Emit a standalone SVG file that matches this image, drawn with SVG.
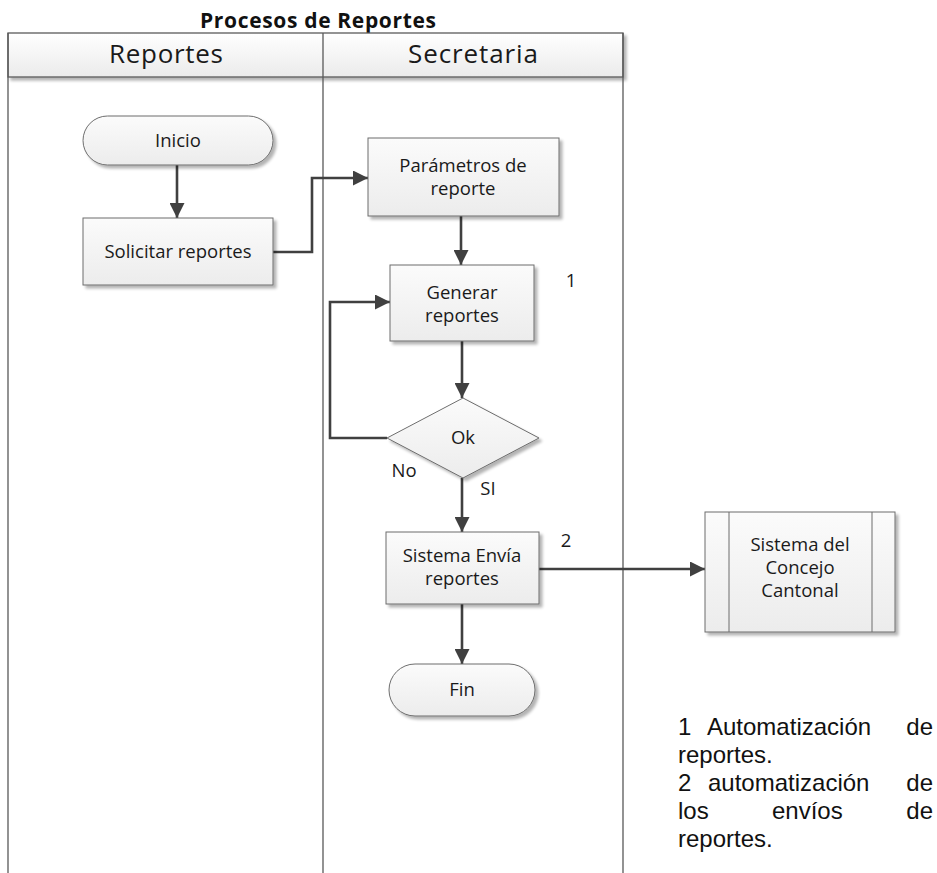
<svg xmlns="http://www.w3.org/2000/svg" width="937" height="873" viewBox="0 0 937 873">
  <style>
    .lane { fill: none; stroke: #595959; stroke-width: 1.3; }
    .box { fill: url(#boxFill); stroke: #6d6d6d; stroke-width: 1; filter: url(#shadow); }
    .lbl { font-family: "Open Sans", "Liberation Sans", sans-serif; font-size: 18.5px; fill: #1a1a1a; text-anchor: middle; }
    .hdr { font-family: "Open Sans", "Liberation Sans", sans-serif; font-size: 26px; fill: #1a1a1a; text-anchor: middle; }
    .title { font-family: "Open Sans", "Liberation Sans", sans-serif; font-size: 21px; font-weight: bold; fill: #111; text-anchor: middle; }
    .note { font-family: "Liberation Sans", Arial, sans-serif; font-size: 24px; fill: #111; }
    .conn { fill: none; stroke: #404040; stroke-width: 2.6; marker-end: url(#arrow); }
  </style>
  <defs>
    <linearGradient id="boxFill" x1="0" y1="0" x2="0" y2="1">
      <stop offset="0" stop-color="#fbfbfb"/>
      <stop offset="1" stop-color="#ececec"/>
    </linearGradient>
    <linearGradient id="hdrFill" x1="0" y1="0" x2="0" y2="1">
      <stop offset="0" stop-color="#ffffff"/>
      <stop offset="1" stop-color="#ebebeb"/>
    </linearGradient>
    <filter id="shadow" x="-10%" y="-10%" width="130%" height="140%">
      <feGaussianBlur in="SourceAlpha" stdDeviation="1.5"/>
      <feOffset dx="2.5" dy="2.5" result="b"/>
      <feComponentTransfer><feFuncA type="linear" slope="0.3"/></feComponentTransfer>
      <feMerge><feMergeNode/><feMergeNode in="SourceGraphic"/></feMerge>
    </filter>
    <marker id="arrow" markerUnits="userSpaceOnUse" markerWidth="15" markerHeight="15" refX="15" refY="7.5" orient="auto">
      <path d="M0,0 L15,7.5 L0,15 z" fill="#404040"/>
    </marker>
  </defs>

  <rect width="937" height="873" fill="#ffffff"/>

  <!-- pool title -->
  <text class="title" x="318" y="28" textLength="236" lengthAdjust="spacing">Procesos de Reportes</text>

  <!-- swimlanes -->
  <g id="pool">
    <rect x="8" y="33" width="615" height="44" fill="url(#hdrFill)" stroke="#595959" stroke-width="1.3" filter="url(#shadow)"/>
    <text class="hdr" x="166" y="63" textLength="114" lengthAdjust="spacing">Reportes</text>
    <text class="hdr" x="473" y="63" textLength="130" lengthAdjust="spacing">Secretaria</text>
    <path class="lane" d="M8,33 V873 M323,33 V873 M623,33 V873"/>
  </g>

  <!-- connectors -->
  <g id="connectors">
    <path class="conn" d="M177,165 V218"/>
    <path class="conn" d="M273,252 H312 V178 H368"/>
    <path class="conn" d="M461,216 V265"/>
    <path class="conn" d="M462,341 V398"/>
    <path class="conn" d="M387,438 H330 V302 H390"/>
    <path class="conn" d="M462,478 V532"/>
    <path class="conn" d="M539,569 H705"/>
    <path class="conn" d="M462,604 V664"/>
  </g>

  <g id="inicio">
    <rect class="box" x="83" y="116" width="190" height="49" rx="24.5"/>
    <text class="lbl" x="178" y="147">Inicio</text>
  </g>

  <g id="solicitar">
    <rect class="box" x="83" y="218" width="190" height="67"/>
    <text class="lbl" x="178" y="258">Solicitar reportes</text>
  </g>

  <g id="parametros">
    <rect class="box" x="368" y="138" width="191" height="78"/>
    <text class="lbl" x="463" y="172">Parámetros de</text>
    <text class="lbl" x="463" y="195">reporte</text>
  </g>

  <g id="generar">
    <rect class="box" x="390" y="265" width="144" height="76"/>
    <text class="lbl" x="462" y="299">Generar</text>
    <text class="lbl" x="462" y="322">reportes</text>
  </g>
  <text class="lbl" x="571" y="287">1</text>

  <g id="ok">
    <polygon class="box" points="463,398 539,438 463,478 387,438"/>
    <text class="lbl" x="463" y="444">Ok</text>
  </g>
  <text class="lbl" x="404" y="477">No</text>
  <text class="lbl" x="488" y="495">SI</text>

  <g id="envia">
    <rect class="box" x="386" y="532" width="153" height="72"/>
    <text class="lbl" x="462" y="562">Sistema Envía</text>
    <text class="lbl" x="462" y="585">reportes</text>
  </g>
  <text class="lbl" x="566" y="547">2</text>

  <g id="concejo">
    <rect class="box" x="705" y="512" width="190" height="120"/>
    <path d="M729,512 V632 M872,512 V632" stroke="#6d6d6d" stroke-width="1" fill="none"/>
    <text class="lbl" x="800" y="551">Sistema del</text>
    <text class="lbl" x="800" y="574">Concejo</text>
    <text class="lbl" x="800" y="597">Cantonal</text>
  </g>

  <g id="fin">
    <rect class="box" x="389" y="664" width="146" height="52" rx="26"/>
    <text class="lbl" x="462" y="696">Fin</text>
  </g>

  <!-- numbered notes, justified -->
  <g id="notes" class="note">
    <text x="678" y="735">1</text>
    <text x="707" y="735">Automatización</text>
    <text x="933" y="735" text-anchor="end">de</text>
    <text x="678" y="763">reportes.</text>
    <text x="678" y="791">2</text>
    <text x="708" y="791">automatización</text>
    <text x="933" y="791" text-anchor="end">de</text>
    <text x="678" y="819">los</text>
    <text x="772" y="819">envíos</text>
    <text x="933" y="819" text-anchor="end">de</text>
    <text x="678" y="847">reportes.</text>
  </g>
</svg>
